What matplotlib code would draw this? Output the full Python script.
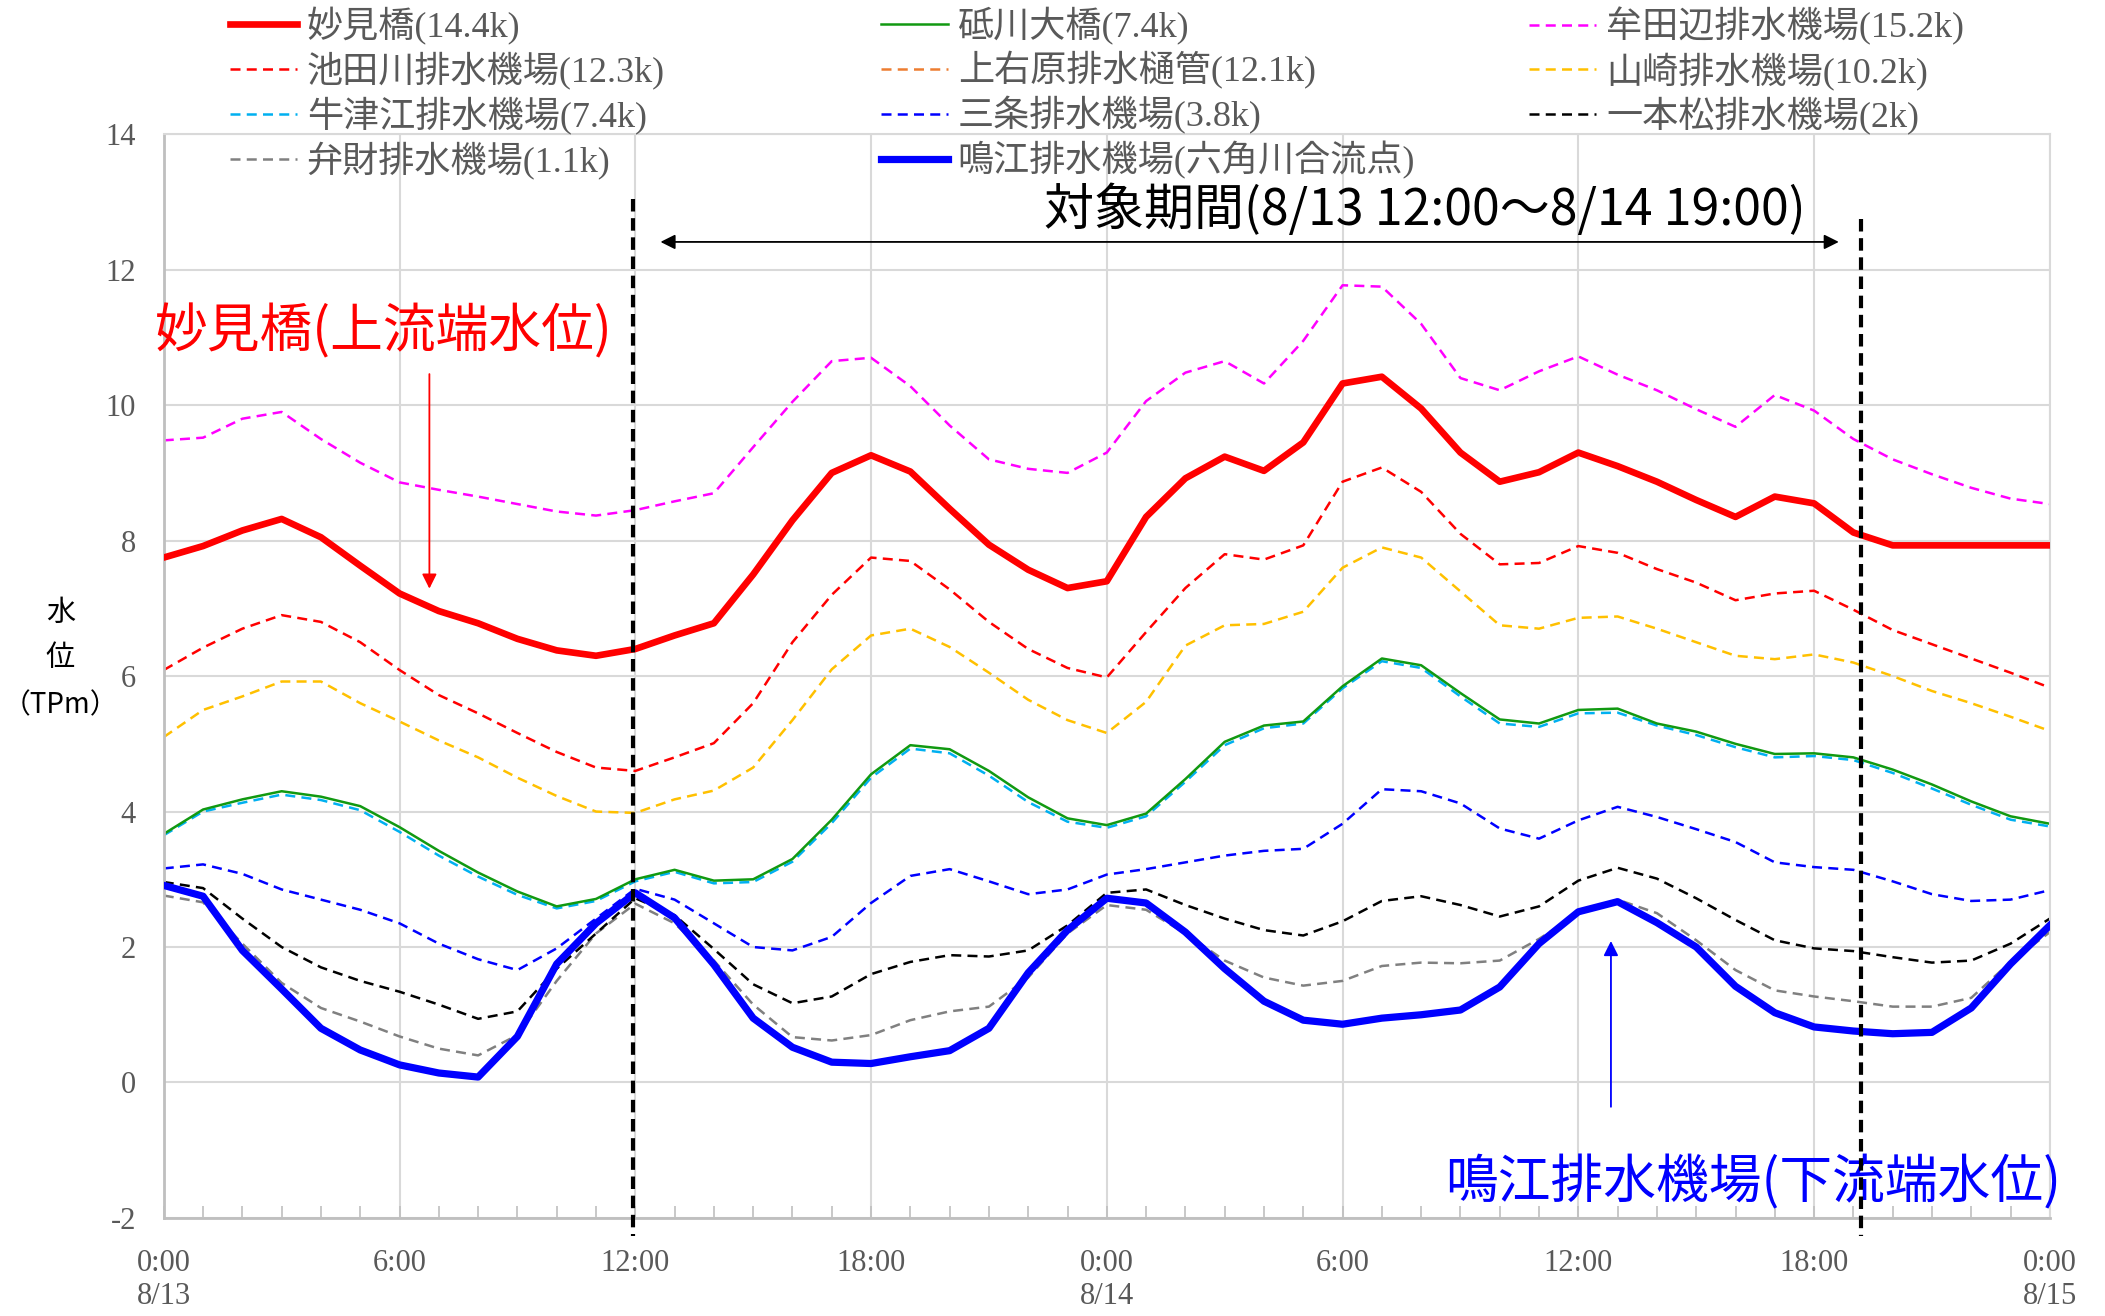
import numpy as np
import matplotlib.pyplot as plt
from matplotlib.ticker import FixedLocator, MultipleLocator

# Hours from 8/13 0:00 (hourly readings)
hours = list(range(49))

myoken = [7.75, 7.92, 8.15, 8.32, 8.05, 7.63, 7.22, 6.96, 6.78, 6.55, 6.38, 6.30, 6.40,
          6.60, 6.78, 7.50, 8.30, 9.00, 9.26, 9.02, 8.47, 7.94, 7.57, 7.30, 7.40, 8.35,
          8.92, 9.24, 9.03, 9.45, 10.32, 10.42, 9.95, 9.30, 8.87, 9.01, 9.30, 9.10, 8.87,
          8.60, 8.35, 8.65, 8.55, 8.12, 7.93, 7.93, 7.93, 7.93, 7.93]
togawa = [3.67, 4.03, 4.18, 4.30, 4.22, 4.08, 3.77, 3.42, 3.10, 2.82, 2.60, 2.71, 3.00,
          3.14, 2.98, 3.00, 3.30, 3.88, 4.55, 4.98, 4.92, 4.60, 4.21, 3.90, 3.80, 3.97,
          4.48, 5.03, 5.27, 5.33, 5.85, 6.26, 6.16, 5.75, 5.36, 5.30, 5.50, 5.52, 5.30,
          5.18, 5.00, 4.85, 4.86, 4.80, 4.62, 4.40, 4.15, 3.93, 3.82]
mutabe = [9.48, 9.52, 9.80, 9.90, 9.50, 9.15, 8.86, 8.75, 8.65, 8.54, 8.43, 8.37, 8.45,
          8.58, 8.70, 9.38, 10.05, 10.65, 10.70, 10.28, 9.70, 9.20, 9.06, 9.00, 9.30, 10.06,
          10.48, 10.65, 10.32, 10.95, 11.77, 11.75, 11.20, 10.40, 10.22, 10.50, 10.72, 10.45, 10.22,
          9.94, 9.68, 10.15, 9.92, 9.50, 9.20, 8.98, 8.78, 8.62, 8.54]
ikedagawa = [6.09, 6.42, 6.70, 6.90, 6.80, 6.50, 6.09, 5.72, 5.45, 5.16, 4.88, 4.65, 4.60,
             4.80, 5.01, 5.60, 6.50, 7.20, 7.75, 7.70, 7.28, 6.80, 6.40, 6.12, 5.98, 6.65,
             7.30, 7.80, 7.72, 7.93, 8.87, 9.08, 8.72, 8.10, 7.65, 7.67, 7.92, 7.82, 7.58,
             7.38, 7.12, 7.22, 7.26, 6.98, 6.68, 6.47, 6.26, 6.05, 5.83]
kamiubara = []
yamasaki = [5.10, 5.50, 5.70, 5.92, 5.92, 5.60, 5.33, 5.05, 4.80, 4.50, 4.23, 4.00, 3.98,
            4.18, 4.31, 4.65, 5.35, 6.10, 6.60, 6.70, 6.43, 6.05, 5.65, 5.35, 5.16, 5.62,
            6.45, 6.75, 6.77, 6.95, 7.60, 7.90, 7.75, 7.25, 6.75, 6.70, 6.86, 6.88, 6.70,
            6.50, 6.30, 6.25, 6.32, 6.20, 6.00, 5.78, 5.60, 5.40, 5.19]
ushizue = [3.65, 4.00, 4.13, 4.25, 4.17, 4.02, 3.70, 3.35, 3.04, 2.77, 2.57, 2.68, 2.97,
           3.11, 2.94, 2.96, 3.26, 3.83, 4.50, 4.93, 4.86, 4.53, 4.14, 3.85, 3.76, 3.93,
           4.44, 4.98, 5.23, 5.30, 5.82, 6.22, 6.12, 5.70, 5.30, 5.25, 5.45, 5.46, 5.27,
           5.13, 4.95, 4.80, 4.82, 4.76, 4.57, 4.34, 4.10, 3.88, 3.78]
sanjo = [3.16, 3.22, 3.08, 2.85, 2.70, 2.55, 2.35, 2.05, 1.82, 1.66, 1.98, 2.42, 2.86,
         2.70, 2.35, 2.00, 1.95, 2.15, 2.65, 3.05, 3.15, 2.97, 2.78, 2.85, 3.07, 3.15,
         3.25, 3.35, 3.42, 3.45, 3.82, 4.33, 4.30, 4.12, 3.75, 3.60, 3.87, 4.07, 3.92,
         3.74, 3.55, 3.25, 3.18, 3.14, 2.97, 2.78, 2.68, 2.70, 2.84]
ipponmatsu = [2.96, 2.87, 2.42, 2.00, 1.70, 1.50, 1.34, 1.15, 0.94, 1.05, 1.68, 2.20, 2.72,
              2.47, 1.97, 1.45, 1.17, 1.27, 1.60, 1.78, 1.88, 1.86, 1.95, 2.32, 2.80, 2.85,
              2.62, 2.42, 2.25, 2.17, 2.38, 2.68, 2.75, 2.62, 2.45, 2.60, 2.98, 3.17, 3.01,
              2.72, 2.40, 2.10, 1.98, 1.94, 1.85, 1.77, 1.80, 2.05, 2.42]
benzai = [2.76, 2.66, 2.05, 1.47, 1.10, 0.90, 0.68, 0.50, 0.40, 0.70, 1.50, 2.20, 2.64,
          2.35, 1.80, 1.15, 0.67, 0.62, 0.70, 0.92, 1.05, 1.12, 1.55, 2.20, 2.62, 2.55,
          2.20, 1.80, 1.55, 1.43, 1.50, 1.72, 1.77, 1.76, 1.80, 2.12, 2.49, 2.70, 2.50,
          2.10, 1.66, 1.36, 1.27, 1.20, 1.12, 1.12, 1.25, 1.78, 2.22]
narue = [2.91, 2.75, 1.95, 1.38, 0.80, 0.48, 0.26, 0.14, 0.08, 0.68, 1.75, 2.35, 2.80,
         2.43, 1.74, 0.95, 0.52, 0.30, 0.28, 0.38, 0.47, 0.80, 1.62, 2.25, 2.72, 2.65,
         2.22, 1.68, 1.20, 0.92, 0.86, 0.95, 1.00, 1.07, 1.41, 2.05, 2.52, 2.67, 2.36,
         2.00, 1.42, 1.03, 0.82, 0.76, 0.72, 0.74, 1.10, 1.75, 2.32]

tick_hours = [0, 6, 12, 18, 24, 30, 36, 42, 48]
tick_labels = ['0:00\n8/13', '6:00', '12:00', '18:00', '0:00\n8/14', '6:00', '12:00', '18:00', '0:00\n8/15']
y_ticks = [-2, 0, 2, 4, 6, 8, 10, 12, 14]

period_start = 11.95
period_end = 43.2

LATIN = ['Liberation Serif', 'Noto Sans CJK JP']
CJK = ['Noto Sans CJK JP', 'DejaVu Sans']

fig = plt.figure(figsize=(21.05, 13.16), dpi=100)
ax = fig.add_axes([0.0778, 0.0745, 0.896, 0.8235])

dash = (4, 2.5)
h_myoken, = ax.plot(hours, myoken, color='#FF0000', lw=4.8, label='妙見橋(14.4k)', zorder=3)
h_ikeda, = ax.plot(hours, ikedagawa, color='#FF0000', lw=1.8, dashes=dash, label='池田川排水機場(12.3k)')
h_ushi, = ax.plot(hours, ushizue, color='#00B0F0', lw=1.8, dashes=dash, label='牛津江排水機場(7.4k)')
h_benzai, = ax.plot(hours, benzai, color='#808080', lw=1.8, dashes=dash, label='弁財排水機場(1.1k)')
h_togawa, = ax.plot(hours, togawa, color='#119911', lw=1.8, label='砥川大橋(7.4k)')
h_kami, = ax.plot(kamiubara, kamiubara, color='#ED7D31', lw=1.8, dashes=dash, label='上右原排水樋管(12.1k)')
h_sanjo, = ax.plot(hours, sanjo, color='#0000FF', lw=1.8, dashes=dash, label='三条排水機場(3.8k)')
h_narue, = ax.plot(hours, narue, color='#0000FF', lw=5.2, label='鳴江排水機場(六角川合流点)', zorder=3)
h_mutabe, = ax.plot(hours, mutabe, color='#FF00FF', lw=1.8, dashes=dash, label='牟田辺排水機場(15.2k)')
h_yama, = ax.plot(hours, yamasaki, color='#FFC000', lw=1.8, dashes=dash, label='山崎排水機場(10.2k)')
h_ippon, = ax.plot(hours, ipponmatsu, color='#000000', lw=1.8, dashes=dash, label='一本松排水機場(2k)')

# Period markers
ax.plot([period_start, period_start], [13.05, -2.26], color='black', lw=3, dashes=(3, 1.6),
        clip_on=False, zorder=4)
ax.plot([period_end, period_end], [12.75, -2.26], color='black', lw=3, dashes=(3, 1.6),
        clip_on=False, zorder=4)

ax.annotate('', xy=(12.57, 12.41), xytext=(42.7, 12.41),
            arrowprops=dict(arrowstyle='<|-|>', color='black', lw=1.3, mutation_scale=22))
ax.text(32.1, 12.87, '対象期間(8/13 12:00～8/14 19:00)', fontsize=36, family=CJK,
        ha='center', va='center', color='black')

ax.text(5.6, 11.08, '妙見橋(上流端水位)', fontsize=38, family=CJK, ha='center', va='center',
        color='#FF0000')
ax.annotate('', xy=(6.76, 7.25), xytext=(6.76, 10.5),
            arrowprops=dict(arrowstyle='-|>', color='#FF0000', lw=1.3, mutation_scale=22))

ax.text(40.45, -1.48, '鳴江排水機場(下流端水位)', fontsize=38, family=CJK, ha='center', va='center',
        color='#0000FF')
ax.annotate('', xy=(36.83, 2.13), xytext=(36.83, -0.4),
            arrowprops=dict(arrowstyle='-|>', color='#0000FF', lw=1.3, mutation_scale=22))

# Axes
ax.set_xlim(0, 48)
ax.set_ylim(-2, 14)
ax.xaxis.set_major_locator(FixedLocator(tick_hours))
ax.set_xticklabels(tick_labels)
ax.xaxis.set_minor_locator(MultipleLocator(1))
ax.set_yticks(y_ticks)
ax.set_yticklabels([str(v) for v in y_ticks])
for lab in ax.get_xticklabels() + ax.get_yticklabels():
    lab.set_family(LATIN)
    lab.set_fontsize(22)
    lab.set_color('#595959')
ax.tick_params(axis='x', which='both', direction='in', length=9, width=1.2, color='#BFBFBF', pad=22)
ax.tick_params(axis='y', which='both', length=0, pad=20)
ax.grid(True, which='major', color='#D9D9D9', lw=1.5)
ax.set_axisbelow(True)
for side in ['top', 'right']:
    ax.spines[side].set_color('#D9D9D9')
    ax.spines[side].set_linewidth(1.5)
for side in ['left', 'bottom']:
    ax.spines[side].set_color('#BFBFBF')
    ax.spines[side].set_linewidth(2)

# Y label
fig.text(0.0287, 0.534, '水', fontsize=21, family=CJK, ha='center', va='center')
fig.text(0.0287, 0.500, '位', fontsize=21, family=CJK, ha='center', va='center')
fig.text(0.0287, 0.464, '（TPm）', fontsize=20, family=CJK, ha='center', va='center')

# Legend: three equally spaced columns
columns = [
    (0.104, [h_myoken, h_ikeda, h_ushi, h_benzai]),
    (0.4133, [h_togawa, h_kami, h_sanjo, h_narue]),
    (0.7214, [h_mutabe, h_yama, h_ippon]),
]
for x0, handles in columns:
    leg = fig.legend(handles=handles, loc='upper left', bbox_to_anchor=(x0, 1.003), ncol=1,
                     frameon=False, prop={'family': LATIN, 'size': 26}, handlelength=1.85,
                     handletextpad=0.28, labelspacing=0.19, borderaxespad=0.2, borderpad=0.1)
    for t in leg.get_texts():
        t.set_color('#595959')

fig.savefig('out.png', dpi=100)
